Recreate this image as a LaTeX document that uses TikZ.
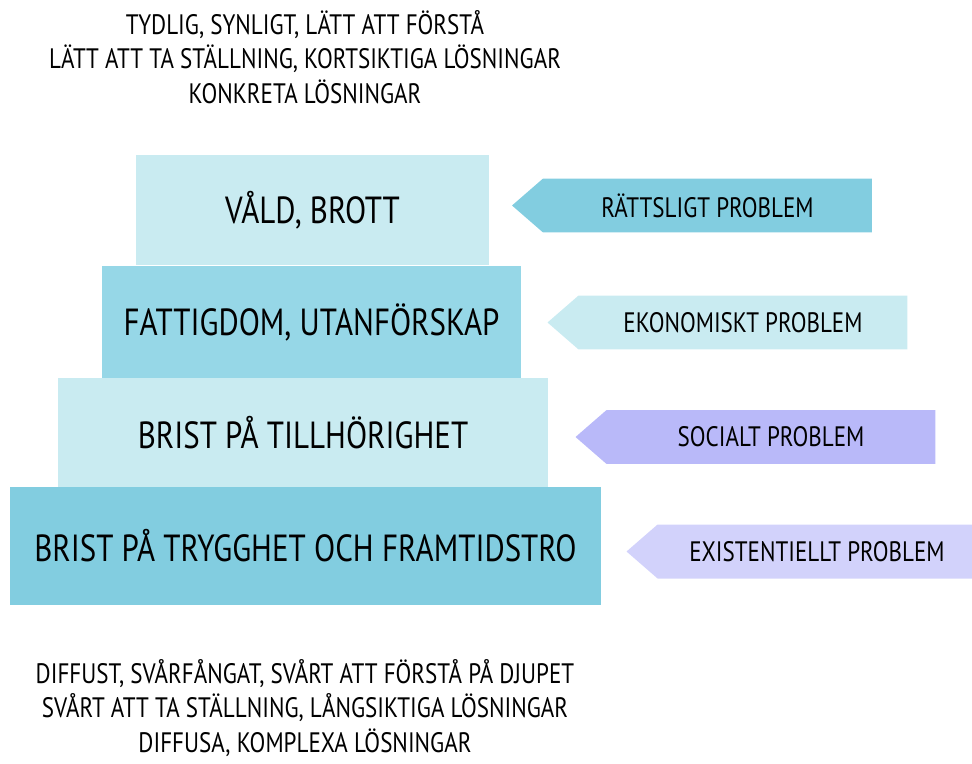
\documentclass[tikz,border=0pt]{standalone}
\usepackage{fontspec}
\setmainfont{PT Sans}[FakeStretch=0.82]
\usetikzlibrary{shapes.symbols}
\definecolor{palecyan}{HTML}{C9EBF1}
\definecolor{midcyan}{HTML}{96D7E7}
\definecolor{deepcyan}{HTML}{82CDE0}
\definecolor{lavender}{HTML}{B9B9F9}
\definecolor{palelavender}{HTML}{D2D2FB}
\begin{document}
\begin{tikzpicture}[x=0.02cm,y=-0.02cm,
    layer/.style={inner sep=0pt, minimum height=2.2cm, font=\fontsize{21.5}{26}\selectfont},
    tag/.style={signal, signal to=west, signal pointer angle=82, inner sep=0pt,
        minimum height=1.08cm, minimum width=7.2cm, font=\fontsize{16}{19}\selectfont},
    note/.style={align=center, inner sep=0pt, font=\fontsize{16}{19.5}\selectfont}]
    \useasboundingbox (0,0) rectangle (972,763);
    % pyramid, top to bottom
    \node[layer, fill=palecyan, minimum width=7.06cm] (vald) at (312.5,210) {VÅLD, BROTT};
    \node[layer, fill=midcyan, minimum width=8.38cm, minimum height=2.24cm] (fattig) at (311.5,322) {FATTIGDOM, UTANFÖRSKAP};
    \node[layer, fill=palecyan, minimum width=9.8cm, minimum height=2.18cm] (tillhor) at (303,432.5) {BRIST PÅ TILLHÖRIGHET};
    \node[layer, fill=deepcyan, minimum width=11.82cm, minimum height=2.36cm] (trygg) at (305.5,546) {BRIST PÅ TRYGGHET OCH FRAMTIDSTRO};
    % problem tags
    \node[tag, fill=deepcyan] (ratt) at (707.5,205.5) {RÄTTSLIGT PROBLEM};
    \node[tag, fill=palecyan] (ekon) at (743,322.5) {EKONOMISKT PROBLEM};
    \node[tag, fill=lavender] (social) at (771,437) {SOCIALT PROBLEM};
    \node[tag, fill=palelavender, minimum width=7.0cm] (exist) at (817,551.5) {EXISTENTIELLT PROBLEM};
    % texts above and below
    \node[note] (above) at (305,57) {TYDLIG, SYNLIGT, LÄTT ATT FÖRSTÅ\\LÄTT ATT TA STÄLLNING, KORTSIKTIGA LÖSNINGAR\\KONKRETA LÖSNINGAR};
    \node[note] (below) at (305,708) {DIFFUST, SVÅRFÅNGAT, SVÅRT ATT FÖRSTÅ PÅ DJUPET\\SVÅRT ATT TA STÄLLNING, LÅNGSIKTIGA LÖSNINGAR\\DIFFUSA, KOMPLEXA LÖSNINGAR};
\end{tikzpicture}
\end{document}
